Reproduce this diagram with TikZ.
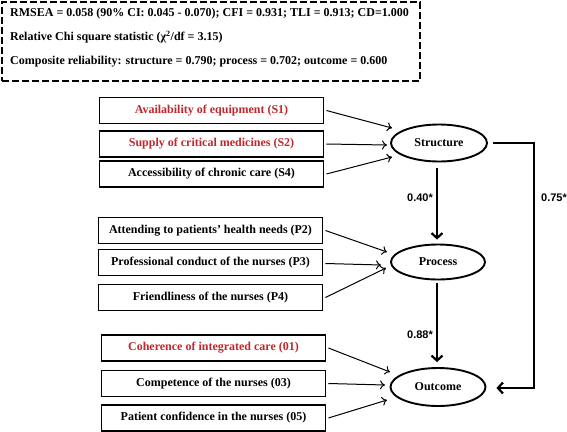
\documentclass[tikz,border=0pt]{standalone}
\usepackage{fontspec}
\setmainfont{Liberation Serif}
\newfontfamily\labfont{Liberation Sans}
\usetikzlibrary{arrows.meta,shapes.geometric,calc}
\definecolor{redtxt}{HTML}{C0272D}
\tikzset{
  ind/.style={draw,line width=1.9pt,minimum width=224pt,minimum height=26pt,inner sep=0pt,font=\bfseries\fontsize{12}{14}\selectfont},
  redind/.style={ind,text=redtxt},
  lat/.style={draw,ellipse,line width=1.9pt,minimum width=96pt,minimum height=37pt,inner sep=0pt,font=\bfseries\fontsize{12}{14}\selectfont},
  load/.style={line width=1pt,-{To[length=5pt,width=9pt]}},
  path/.style={line width=2.2pt,-{Straight Barb[length=5pt,width=11pt,line width=2.2pt]}},
  coef/.style={font=\labfont\bfseries\fontsize{11}{13}\selectfont,inner sep=0pt},
  fit/.style={anchor=west,inner sep=0pt,font=\bfseries\fontsize{12}{14}\selectfont}
}
\begin{document}
\begin{tikzpicture}[x=1pt,y=-1pt]
\useasboundingbox (0,0) rectangle (567,431);
% fit box
\node[draw,line width=2pt,dash pattern=on 7pt off 3pt,minimum width=418pt,minimum height=79pt,anchor=north west,inner sep=0pt] (fitbox) at (1,1) {};
\node[fit] (f1) at (10,14) {RMSEA = 0.058 (90\% CI: 0.045 - 0.070); CFI = 0.931; TLI = 0.913; CD=1.000};
\node[fit] (f2) at (10,37) {Relative Chi square statistic (χ\textsuperscript{2}/df = 3.15)};
\node[fit] (f3) at (10,62) {Composite reliability: structure = 0.790; process = 0.702; outcome = 0.600};
% indicators
\node[redind] (s1) at (211.5,110.5) {Availability of equipment (S1)};
\node[redind] (s2) at (211.5,144) {Supply of critical medicines (S2)};
\node[ind] (s4) at (211.5,174) {Accessibility of chronic care (S4)};
\node[ind] (p2) at (210.5,230.5) {Attending to patients’ health needs (P2)};
\node[ind] (p3) at (210.5,262.5) {Professional conduct of the nurses (P3)};
\node[ind] (p4) at (210.5,297.5) {Friendliness of the nurses (P4)};
\node[redind] (o1) at (213.5,348) {Coherence of integrated care (01)};
\node[ind] (o3) at (213.5,383.5) {Competence of the nurses (03)};
\node[ind] (o5) at (213.5,418) {Patient confidence in the nurses (05)};
% latents
\node[lat] (st) at (439,143) {Structure};
\node[lat,minimum width=94pt,minimum height=35pt] (pr) at (438,262) {Process};
\node[lat,minimum width=95pt,minimum height=38pt] (ou) at (438,387) {Outcome};
% loadings
\draw[load] ($(s1.east)+(2,0)$) -- ($(st)+(-47,-15)$);
\draw[load] ($(s2.east)+(2,0)$) -- ($(st)+(-52,2)$);
\draw[load] ($(s4.east)+(2,0)$) -- ($(st)+(-47,14)$);
\draw[load] ($(p2.east)+(2,0)$) -- ($(pr)+(-51,-10)$);
\draw[load] ($(p3.east)+(2,1)$) -- ($(pr)+(-57,3)$);
\draw[load] ($(p4.east)+(2,0)$) -- ($(pr)+(-52,6)$);
\draw[load] ($(o1.east)+(2,0)$) -- ($(ou)+(-48,-15)$);
\draw[load] ($(o3.east)+(2,0)$) -- ($(ou)+(-53,-2)$);
\draw[load] ($(o5.east)+(2,0)$) -- ($(ou)+(-51,13)$);
% structural paths
\draw[path] ($(st.south)+(-2,6)$) -- ($(pr.north)+(-1,-4)$);
\draw[path] ($(pr.south)+(-1,3)$) -- ($(ou.north)+(-1,-5)$);
\coordinate (c1) at (534,143);
\coordinate (c2) at (534,388);
\draw[path] ($(st.east)+(5,0)$) -- (c1) -- (c2) -- ($(ou.east)+(10,1)$);
\node[coef] (l1) at (420,198) {0.40*};
\node[coef] (l2) at (420,335) {0.88*};
\node[coef] (l3) at (554,198) {0.75*};
\end{tikzpicture}
\end{document}
